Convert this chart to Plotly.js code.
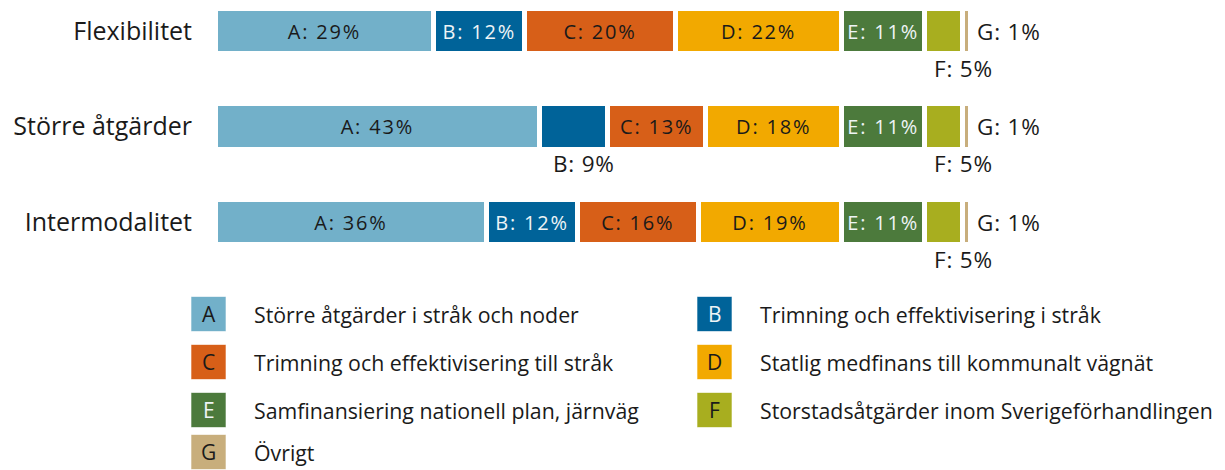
<!DOCTYPE html>
<html>
<head>
<meta charset="utf-8">
<script src="https://cdn.plot.ly/plotly-3.0.1.min.js"></script>
<style>
html,body{margin:0;padding:0;background:#fff;}
#chart{width:1225px;height:470px;}
</style>
</head>
<body>
<div id="chart"></div>
<script>
// ---------- data ----------
const categories = ["Flexibilitet", "Större åtgärder", "Intermodalitet"];
const seriesKeys = ["A", "B", "C", "D", "E", "F", "G"];
const A = [29, 43, 36];
const B = [12, 9, 12];
const C = [20, 13, 16];
const D = [22, 18, 19];
const E = [11, 11, 11];
const F = [5, 5, 5];
const G = [1, 1, 1];
const seriesValues = [A, B, C, D, E, F, G];
const legendLabels = [
  "Större åtgärder i stråk och noder",
  "Trimning och effektivisering i stråk",
  "Trimning och effektivisering till stråk",
  "Statlig medfinans till kommunalt vägnät",
  "Samfinansiering nationell plan, järnväg",
  "Storstadsåtgärder inom Sverigeförhandlingen",
  "Övrigt"
];
// labels drawn outside the bar: below the bar, or to the right of the bar
const labelsBelow = {B: ["Större åtgärder"], F: ["Flexibilitet", "Större åtgärder", "Intermodalitet"]};
const labelsRight = {G: ["Flexibilitet", "Större åtgärder", "Intermodalitet"]};

// ---------- style ----------
const colors = {A:"#72B0C9", B:"#006399", C:"#D75F18", D:"#F2A900", E:"#4C7A3C", F:"#A8AE1F", G:"#C8AE7C"};
const textColors = {A:"#1a1a1a", B:"#eef4f6", C:"#1a1a1a", D:"#1a1a1a", E:"#eef4f6", F:"#1a1a1a", G:"#1a1a1a"};
const FONT = "Open Sans, Noto Sans, sans-serif";
const W = 1225, H = 470, L = 215, PW = 755;
const px2x = p => (p - L) / PW;
const py2y = p => 1 - p / H;
const spaced = (s, ls) => '<span style="letter-spacing:' + ls + 'px">' + s + '</span>';

const traces = seriesKeys.map((k, si) => {
  const vals = seriesValues[si];
  const txt = vals.map((v, ci) => {
    const cat = categories[ci];
    const outside = (labelsBelow[k] && labelsBelow[k].includes(cat)) || (labelsRight[k] && labelsRight[k].includes(cat));
    return outside ? "" : spaced(k + ": " + v + "%", 1.8);
  });
  return {
    type: "bar", orientation: "h", name: k,
    x: vals, y: categories, text: txt,
    texttemplate: "%{text}",
    textposition: "inside", insidetextanchor: "middle", constraintext: "none",
    textangle: 0,
    textfont: {family: FONT, size: 20, color: textColors[k]},
    width: 0.48,
    marker: {color: colors[k], line: {color: "#ffffff", width: 5}},
    hoverinfo: "skip", showlegend: false, cliponaxis: false
  };
});

const annotations = [];
// outside labels
seriesKeys.forEach((k, si) => {
  categories.forEach((cat, ci) => {
    let start = 0;
    for (let j = 0; j < si; j++) start += seriesValues[j][ci];
    const v = seriesValues[si][ci];
    const label = spaced(k + ": " + v + "%", 0.8);
    if (labelsBelow[k] && labelsBelow[k].includes(cat)) {
      const isF = k === "F";
      annotations.push({
        x: isF ? start + v : start + v / 2, y: cat, xref: "x", yref: "y",
        text: label, showarrow: false, xanchor: "center", yanchor: "middle",
        xshift: isF ? 1 : 10, yshift: -37,
        font: {family: FONT, size: 22.5, color: "#1a1a1a"}
      });
    }
    if (labelsRight[k] && labelsRight[k].includes(cat)) {
      annotations.push({
        x: start + v, y: cat, xref: "x", yref: "y",
        text: label, showarrow: false, xanchor: "left", yanchor: "middle",
        xshift: 5, yshift: 0,
        font: {family: FONT, size: 22.5, color: "#1a1a1a"}
      });
    }
  });
});

// custom legend
const shapes = [];
const legendCols = [191, 697];
const legendRows = [314, 362, 410, 452];
const sq = 35;
seriesKeys.forEach((k, i) => {
  const col = i % 2, row = Math.floor(i / 2);
  const x0 = legendCols[col], yc = legendRows[row];
  shapes.push({
    type: "rect", xref: "paper", yref: "paper",
    x0: px2x(x0), x1: px2x(x0 + sq), y0: py2y(yc + sq / 2), y1: py2y(yc - sq / 2),
    fillcolor: colors[k], line: {width: 1, color: "rgba(255,255,255,0.6)"}, layer: "above"
  });
  annotations.push({
    x: px2x(x0 + sq / 2), y: py2y(yc), xref: "paper", yref: "paper",
    text: k, showarrow: false, xanchor: "center", yanchor: "middle",
    font: {family: FONT, size: 21, color: textColors[k]}
  });
  annotations.push({
    x: px2x(x0 + 61), y: py2y(yc), xref: "paper", yref: "paper",
    text: legendLabels[i], showarrow: false, xanchor: "left", yanchor: "middle",
    font: {family: FONT, size: 21.3, color: "#1a1a1a"}
  });
});

// y axis range so category centers land at 31, 127, 222 px
const unitPx = 95.5;
const yTop = -31 / unitPx;
const yBottom = yTop + H / unitPx;

const layout = {
  width: W, height: H,
  margin: {l: L, r: W - L - PW, t: 0, b: 0, pad: 0},
  paper_bgcolor: "#ffffff", plot_bgcolor: "#ffffff",
  barmode: "stack",
  showlegend: false,
  hovermode: false,
  xaxis: {range: [0, 100], visible: false, fixedrange: true},
  yaxis: {
    type: "category", categoryorder: "array", categoryarray: categories,
    range: [yBottom, yTop], showgrid: false, zeroline: false, showline: false,
    ticks: "", ticklabelstandoff: 22, fixedrange: true,
    tickfont: {family: FONT, size: 25, color: "#1a1a1a"}
  },
  shapes: shapes,
  annotations: annotations
};

Plotly.newPlot("chart", traces, layout, {displayModeBar: false, staticPlot: true});
</script>
</body>
</html>
